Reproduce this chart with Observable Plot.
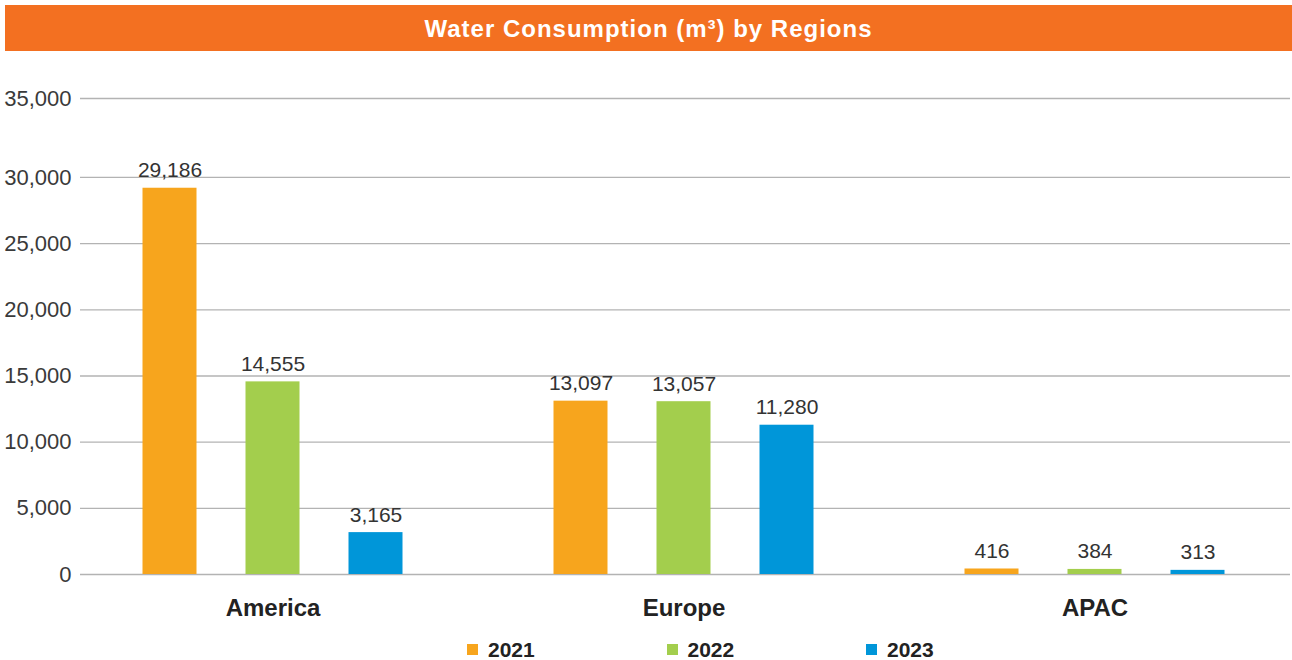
<!DOCTYPE html>
<html><head><meta charset="utf-8">
<script src="https://cdn.jsdelivr.net/npm/d3@7"></script>
<script src="https://cdn.jsdelivr.net/npm/@observablehq/plot@0.6"></script>
<style>
html,body{margin:0;padding:0;background:#fff;font-family:"Liberation Sans",Arial,sans-serif;}
#title{position:absolute;left:5px;top:5px;width:1287px;height:46px;background:#F37021;color:#fff;font-weight:bold;font-size:24px;display:flex;align-items:center;justify-content:center;letter-spacing:1px;padding-top:1px;box-sizing:border-box;}
.layer{position:absolute;left:0;top:51px;}
#legend{position:absolute;left:467px;top:633px;}
#legend span{width:199.5px;margin-right:0 !important;}
#legend svg{margin-right:10px !important;}
</style></head><body>
<div id="title">Water Consumption (m³) by Regions</div>
<div id="grid" class="layer"></div>
<div id="bars" class="layer"></div>
<div id="legend"></div>
<script>
const regions = ["America", "Europe", "APAC"];
const years = ["2021", "2022", "2023"];
const values2021 = [29186, 13097, 416];
const values2022 = [14555, 13057, 384];
const values2023 = [3165, 11280, 313];
const yTicks = [0, 5000, 10000, 15000, 20000, 25000, 30000, 35000];
const colors = ["#F7A51D", "#A3CE4D", "#0096D9"];

const series = [values2021, values2022, values2023];
const data = regions.flatMap((r, i) => years.map((y, j) => ({region: r, year: y, value: series[j][i]})));
const fmt = d3.format(",");
const font = '"Liberation Sans", Arial, sans-serif';

// the source chart leaves a taller gap between its top two gridlines
const stretch = v => v <= 30000 ? v : 30000 + (v - 30000) * (79 / 66.2);
const yScale = {type: "linear", transform: stretch, domain: [0, stretch(35000)], range: [523, 47], axis: null};
const dims = {width: 1292, height: 580, marginTop: 47, marginBottom: 57};

// background layer: grid lines and y axis across the whole frame
const grid = Plot.plot({
  ...dims, marginLeft: 80, marginRight: 2,
  style: {fontFamily: font, background: "#fff", overflow: "visible"},
  y: yScale,
  marks: [
    Plot.ruleY(yTicks, {stroke: "#b3b3b3", strokeWidth: 1.3}),
    Plot.axisY(yTicks, {anchor: "left", tickSize: 0, tickPadding: 9, tickFormat: fmt, fontSize: 22, fill: "#3a3a3a", label: null})
  ]
});
document.getElementById("grid").appendChild(grid);

// foreground layer: grouped bars, value labels and region labels
const bars = Plot.plot({
  ...dims, marginLeft: 78.5, marginRight: 3.5,
  style: {fontFamily: font, background: "transparent", overflow: "visible"},
  fx: {domain: regions, paddingInner: 0, paddingOuter: -0.0298, label: null},
  x: {domain: years, paddingInner: 0.478, paddingOuter: 0.727, axis: null},
  y: yScale,
  color: {domain: years, range: colors},
  marks: [
    Plot.barY(data, {fx: "region", x: "year", y: "value", fill: "year"}),
    Plot.text(data, {fx: "region", x: "year", y: "value", text: d => fmt(d.value), dy: -11, lineAnchor: "bottom", fontSize: 21, fill: "#333"}),
    Plot.axisFx({anchor: "bottom", tickSize: 0, tickPadding: 24, fontSize: 24, fontWeight: "bold", fill: "#222", label: null})
  ]
});
document.getElementById("bars").appendChild(bars);

const leg = Plot.legend({
  color: {domain: years, range: colors},
  swatchSize: 11,
  style: {fontFamily: font, fontSize: "21px", fontWeight: "bold", color: "#222", margin: 0}
});
document.getElementById("legend").appendChild(leg);
</script>
</body></html>
